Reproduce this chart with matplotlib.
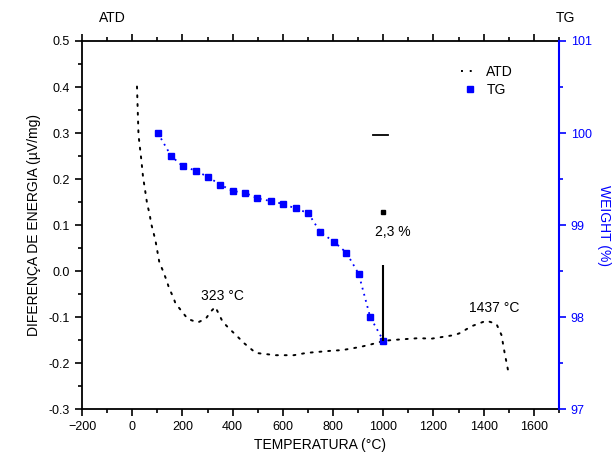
import numpy as np
import matplotlib.pyplot as plt
from matplotlib.ticker import MultipleLocator
from matplotlib.lines import Line2D

plt.rcParams['font.family'] = ['Liberation Sans', 'DejaVu Sans']

# ATD curve (temperature in C, signal)
atd_t = [19, 25, 36, 43, 52, 60, 69, 75, 85, 93, 108, 122, 138, 146, 165, 172,
         221, 261, 294, 313, 331, 360, 386, 413, 446, 492, 571, 644, 694, 800,
         836, 909, 955, 1001, 1035, 1087, 1140, 1193, 1286, 1305, 1352, 1411,
         1451, 1471, 1484, 1497]
atd_v = [0.401, 0.296, 0.243, 0.205, 0.173, 0.144, 0.125, 0.104, 0.083, 0.065,
         0.019, 0.001, -0.022, -0.036, -0.059, -0.070, -0.104, -0.112, -0.103,
         -0.088, -0.078, -0.110, -0.125, -0.139, -0.157, -0.178, -0.183, -0.183,
         -0.178, -0.173, -0.172, -0.165, -0.159, -0.152, -0.150, -0.148, -0.146,
         -0.147, -0.139, -0.135, -0.120, -0.108, -0.115, -0.139, -0.179, -0.215]

# TG curve (temperature in C, mass %)
tg_t = [102, 155, 201, 254, 303, 350, 400, 450, 499, 552, 600, 651, 701, 750,
        803, 853, 902, 948, 1001]
tg_w = [100.0, 99.75, 99.64, 99.59, 99.52, 99.44, 99.37, 99.35, 99.29, 99.26,
        99.23, 99.18, 99.13, 98.92, 98.82, 98.70, 98.47, 98.00, 97.74]

# mass loss marker
loss_t = 1000
loss_w = [97.74, 98.57]
loss_dot = 99.14
dash_t = [960, 1020]
dash_v = [0.296, 0.296]

fig = plt.figure(figsize=(6.13, 4.68), dpi=100)
ax = fig.add_axes([0.1338, 0.126, 0.778, 0.7864])
ax2 = ax.twinx()

atd_style = (0, (1, 3.5))
ax.plot(atd_t, atd_v, color='black', linestyle=atd_style, linewidth=1.4,
        dash_capstyle='round')
ax.plot(dash_t, dash_v, color='black', linewidth=1.3)
ax2.plot(tg_t, tg_w, color='blue', linestyle=(0, (1, 2.5)), linewidth=1.3,
         marker='s', markersize=4)
ax2.vlines(loss_t, loss_w[0], loss_w[1], color='black', linewidth=1.5)
ax2.plot([loss_t], [loss_dot], 's', color='black', markersize=2.5)

ax.set_xlim(-200, 1700)
ax.set_ylim(-0.3, 0.5)
ax2.set_ylim(97, 101)

ax.xaxis.set_minor_locator(MultipleLocator(100))
ax.yaxis.set_minor_locator(MultipleLocator(0.05))
ax2.yaxis.set_major_locator(MultipleLocator(1))
ax2.yaxis.set_minor_locator(MultipleLocator(0.5))
ax.set_xticks([-200, 0, 200, 400, 600, 800, 1000, 1200, 1400, 1600])
ax.set_yticks(np.arange(-0.3, 0.51, 0.1))
ax.yaxis.set_major_formatter(plt.FuncFormatter(lambda v, p: '%.1f' % v))

ax.tick_params(axis='both', which='major', direction='out', length=5, width=1.2,
               labelsize=9)
ax.tick_params(axis='x', which='both', top=True)
ax.tick_params(axis='both', which='minor', direction='out', length=3, width=1.2)
ax2.tick_params(axis='y', which='major', direction='out', length=5, width=1.2,
                colors='blue', labelsize=9)
ax2.tick_params(axis='y', which='minor', direction='out', length=3, width=1.2,
                colors='blue')
for s in ['left', 'bottom', 'top']:
    ax.spines[s].set_linewidth(1.3)
ax.spines['right'].set_visible(False)
ax2.spines['right'].set_color('blue')
ax2.spines['right'].set_linewidth(1.5)
for s in ['left', 'bottom', 'top']:
    ax2.spines[s].set_visible(False)

ax.set_xlabel('TEMPERATURA (°C)', fontsize=10, labelpad=4)
ax.set_ylabel('DIFERENÇA DE ENERGIA (µV/mg)', fontsize=10, labelpad=6)
ax2.set_ylabel('WEIGHT (%)', fontsize=10, color='blue', rotation=270, labelpad=14)

ax.text(361, -0.054, '323 °C', fontsize=10, ha='center', va='center')
ax.text(1444, -0.080, '1437 °C', fontsize=10, ha='center', va='center')
ax.text(1040, 0.085, '2,3 %', fontsize=10, ha='center', va='center')

fig.text(0.183, 0.962, 'ATD', fontsize=10, ha='center', va='center')
fig.text(0.922, 0.962, 'TG', fontsize=10, ha='center', va='center')

handles = [Line2D([], [], color='black', linestyle=atd_style, linewidth=1.4),
           Line2D([], [], color='blue', marker='s', markersize=4, linestyle='none')]
ax2.legend(handles, ['ATD', 'TG'], loc='upper right', bbox_to_anchor=(0.93, 0.97),
           frameon=False, fontsize=10, handlelength=1.2, handletextpad=0.6,
           labelspacing=0.3)

fig.savefig('out.png', dpi=100)
